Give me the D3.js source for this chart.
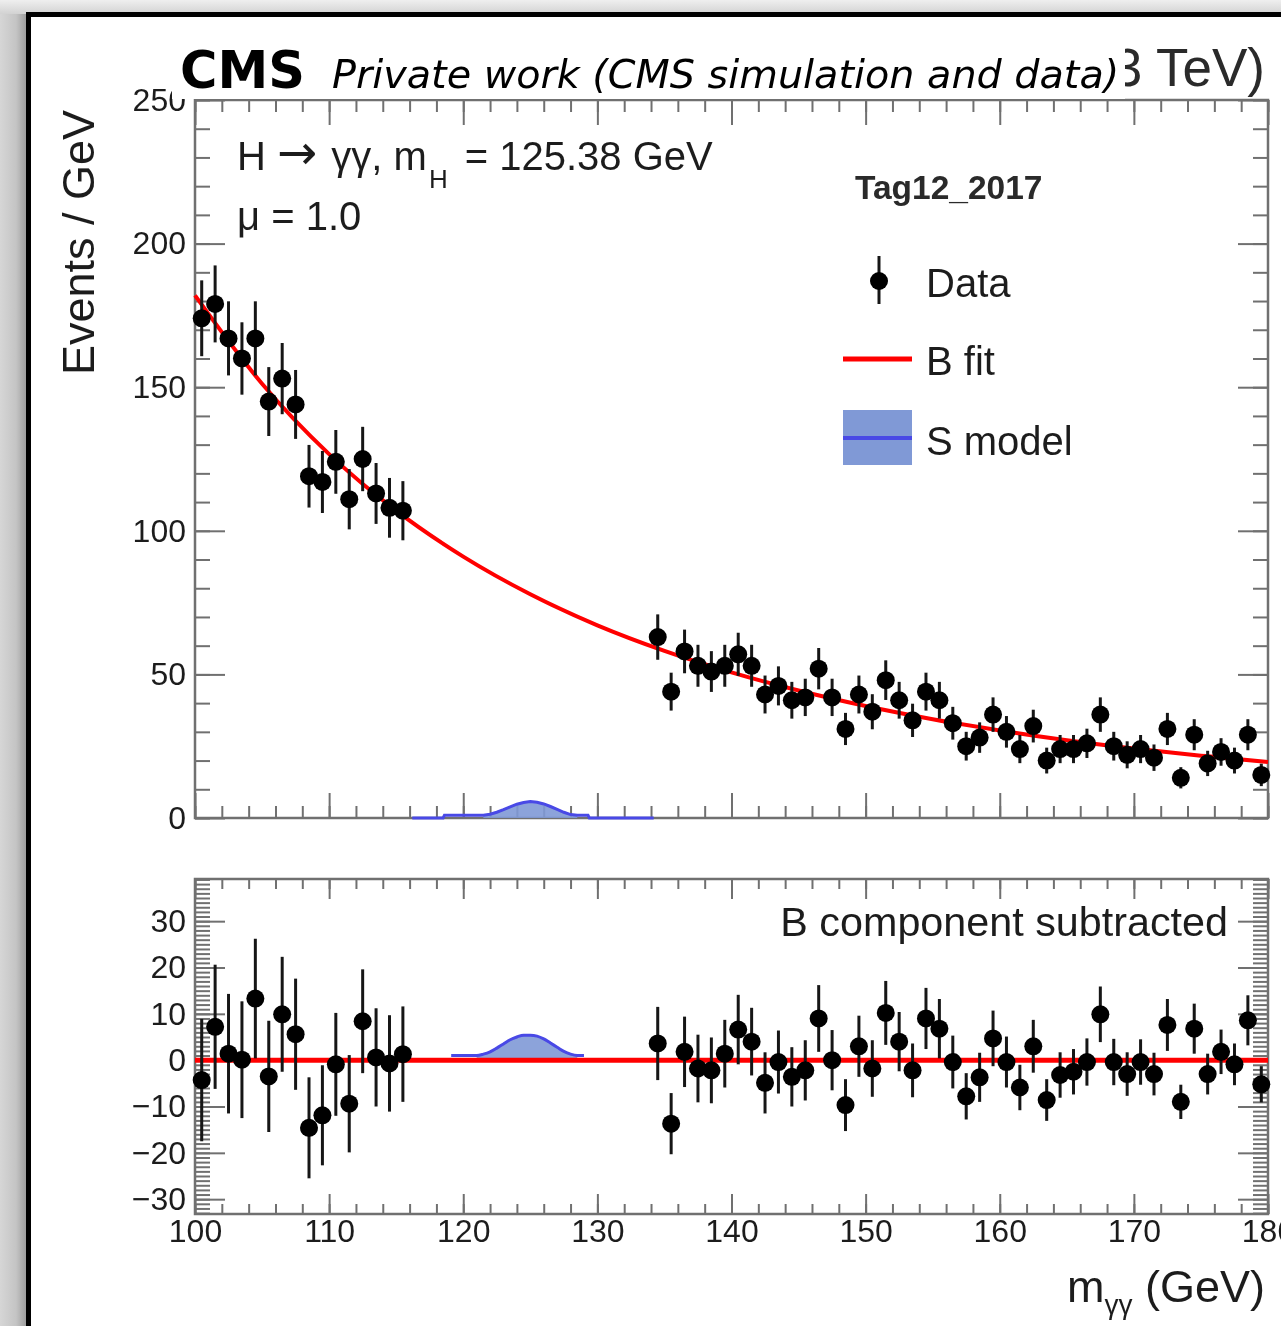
<!DOCTYPE html>
<html>
<head>
<meta charset="utf-8">
<script src="https://cdn.jsdelivr.net/npm/d3@7"></script>
<style>
  html, body { margin: 0; padding: 0; background: #e6e6e6; }
  svg { display: block; }
</style>
</head>
<body>
<svg id="chart" width="1281" height="1326"></svg>
<script>
// ---------------- DATA ----------------
const dataMass = [100.5,101.5,102.5,103.5,104.5,105.5,106.5,107.5,108.5,109.5,110.5,111.5,112.5,113.5,114.5,115.5,
  134.5,135.5,136.5,137.5,138.5,139.5,140.5,141.5,142.5,143.5,144.5,145.5,146.5,147.5,148.5,149.5,150.5,151.5,152.5,153.5,
  154.5,155.5,156.5,157.5,158.5,159.5,160.5,161.5,162.5,163.5,164.5,165.5,166.5,167.5,168.5,169.5,170.5,171.5,172.5,173.5,
  174.5,175.5,176.5,177.5,178.5,179.5];
const dataEvents = [174,179,167,160,167,145,153,144,119,117,124,111,125,113,108,107,
  63,44,58,53,51,53,57,53,43,46,41,42,52,42,31,43,37,48,41,34,
  44,41,33,25,28,36,30,24,32,20,24,24,26,36,25,22,24,21,31,14,
  29,19,23,20,29,15];
const dataErr = [13.2,13.4,12.9,12.6,12.9,12.0,12.4,12.0,10.9,10.8,11.1,10.5,11.2,10.6,10.4,10.3,
  7.9,6.6,7.6,7.3,7.1,7.3,7.5,7.3,6.6,6.8,6.4,6.5,7.2,6.5,5.6,6.6,6.1,6.9,6.4,5.8,
  6.6,6.4,5.7,5.0,5.3,6.0,5.5,4.9,5.7,4.5,4.9,4.9,5.1,6.0,5.0,4.7,4.9,4.6,5.6,3.7,
  5.4,4.4,4.8,4.5,5.4,3.9];
const residuals = [-4.3,7.2,1.4,0.1,13.3,-3.5,9.9,5.6,-14.6,-11.9,-0.9,-9.4,8.4,0.6,-0.7,1.3,
  3.6,-13.7,1.8,-1.8,-2.2,1.4,6.6,4.0,-4.9,-0.4,-3.6,-2.2,9.0,0,-9.7,3.0,-1.8,10.2,4.0,-2.2,
  9.0,6.8,-0.4,-7.8,-3.7,4.7,-0.4,-5.9,3.0,-8.6,-3.2,-2.5,-0.4,9.9,-0.4,-3.0,-0.4,-3.0,7.6,-9.0,
  6.8,-3.0,1.8,-0.9,8.6,-5.2];

const fitMass = [100,105,110,115,120,125,130,135,140,145,150,155,160,165,170,175,180];
const fitValue = [182,151.2,126.7,107.0,91.0,77.9,67.1,58.2,50.7,44.4,39.0,34.4,30.5,27.1,24.2,21.7,19.5];

const sigTopMass = [116.2,118.5,118.6,121.5,122,122.5,123,123.5,124,124.5,125,125.5,126,126.5,127,127.5,128,128.5,129.3,129.4,134.2];
const sigTopValue = [0,0,1.0,1.0,1.3,2.0,2.9,3.9,4.8,5.4,5.7,5.5,4.9,4.0,3.0,2.0,1.2,1.0,1.0,0,0];
const sigBotMass = [119.1,121,121.5,122,122.5,123,123.5,124,124.5,125,125.5,126,126.5,127,127.5,128,128.5,129];
const sigBotValue = [1.0,1.0,1.3,1.8,2.6,3.5,4.4,5.0,5.4,5.4,5.2,4.6,3.7,2.8,1.9,1.3,1.0,1.0];

const xMajorTicks = [100,110,120,130,140,150,160,170,180];
const yTopTicks = [0,50,100,150,200,250];
const yBotTicks = [-30,-20,-10,0,10,20,30];

// ---------------- LAYOUT ----------------
const svg = d3.select("#chart");
const W = 1281, H = 1326;
const X0 = 195, X1 = 1268;
const topY0 = 100, topY1 = 818;
const botY0 = 879, botY1 = 1214;
const HELV = "'Liberation Sans', Arial, Helvetica, sans-serif";
const TXT = "#1e1e1e";
const FRAME = "#707070";

const x = d3.scaleLinear().domain([100,180]).range([X0, X1]);
const yTop = d3.scaleLinear().domain([0,250]).range([topY1, topY0]);
const yBot = d3.scaleLinear().domain([-33.2, 39.1]).range([botY1, botY0]);

// defs
const defs = svg.append("defs");
const lg = defs.append("linearGradient").attr("id","leftShade").attr("x1","0").attr("x2","1").attr("y1","0").attr("y2","0");
lg.append("stop").attr("offset","0").attr("stop-color","#d6d6d6");
lg.append("stop").attr("offset","0.6").attr("stop-color","#c4c4c4");
lg.append("stop").attr("offset","1").attr("stop-color","#9a9a9a");
const tg = defs.append("linearGradient").attr("id","topShade").attr("x1","0").attr("x2","0").attr("y1","0").attr("y2","1");
tg.append("stop").attr("offset","0").attr("stop-color","#efefef");
tg.append("stop").attr("offset","1").attr("stop-color","#d2d2d2");
defs.append("filter").attr("id","soft").append("feGaussianBlur").attr("stdDeviation", 0.6);
defs.append("clipPath").attr("id","lumiClip").append("rect")
  .attr("x",1125).attr("y",0).attr("width",200).attr("height",120);

// background frame
svg.append("rect").attr("x",0).attr("y",0).attr("width",W).attr("height",H).attr("fill","#e6e6e6");
svg.append("rect").attr("x",0).attr("y",0).attr("width",W).attr("height",14).attr("fill","url(#topShade)");
svg.append("rect").attr("x",0).attr("y",14).attr("width",27).attr("height",H-14).attr("fill","url(#leftShade)");
svg.append("rect").attr("x",26).attr("y",12).attr("width",W-26).attr("height",H-12).attr("fill","#000");
svg.append("rect").attr("x",31).attr("y",17).attr("width",W-31).attr("height",H-17).attr("fill","#fff");

const g = svg.append("g").attr("filter","url(#soft)");

// ---------------- helper: axes ----------------
function styleAxis(sel) {
  sel.select(".domain").remove();
  sel.selectAll(".tick line").attr("stroke", FRAME).attr("stroke-width", 2);
  sel.selectAll(".tick text").attr("fill", TXT).attr("font-family", HELV).attr("font-size", 32);
}
const xMinorTicks = d3.range(100, 180.1, 2);

// ===== TOP PANEL =====
g.append("g").attr("transform",`translate(${X0},0)`)
  .call(d3.axisLeft(yTop).tickValues(yTopTicks).tickSize(-30).tickPadding(9)).call(styleAxis);
g.append("g").attr("transform",`translate(${X0},0)`)
  .call(d3.axisLeft(yTop).tickValues(d3.range(0,251,10)).tickSize(-15).tickFormat("")).call(styleAxis);
g.append("g").attr("transform",`translate(${X1},0)`)
  .call(d3.axisRight(yTop).tickValues(yTopTicks).tickSize(-30).tickFormat("")).call(styleAxis);
g.append("g").attr("transform",`translate(${X1},0)`)
  .call(d3.axisRight(yTop).tickValues(d3.range(0,251,10)).tickSize(-15).tickFormat("")).call(styleAxis);
g.append("g").attr("transform",`translate(0,${topY1})`)
  .call(d3.axisBottom(x).tickValues(xMajorTicks).tickSize(-25).tickFormat("")).call(styleAxis);
g.append("g").attr("transform",`translate(0,${topY1})`)
  .call(d3.axisBottom(x).tickValues(xMinorTicks).tickSize(-12).tickFormat("")).call(styleAxis);
g.append("g").attr("transform",`translate(0,${topY0})`)
  .call(d3.axisTop(x).tickValues(xMajorTicks).tickSize(-25).tickFormat("")).call(styleAxis);
g.append("g").attr("transform",`translate(0,${topY0})`)
  .call(d3.axisTop(x).tickValues(xMinorTicks).tickSize(-12).tickFormat("")).call(styleAxis);
g.append("rect").attr("x",X0).attr("y",topY0).attr("width",X1-X0).attr("height",topY1-topY0)
  .attr("fill","none").attr("stroke",FRAME).attr("stroke-width",2.5);

// signal top
const sigTop = sigTopMass.map((m,i)=>({m, v: sigTopValue[i]}));
g.append("path").datum(sigTop.filter(d=>d.m>=121.5 && d.m<=128.5))
  .attr("d", d3.area().x(d=>x(d.m)).y0(yTop(0)).y1(d=>yTop(d.v)).curve(d3.curveMonotoneX))
  .attr("fill","#8099d6").attr("opacity",0.9);
g.append("path").datum(sigTop)
  .attr("d", d3.line().x(d=>x(d.m)).y(d=>yTop(d.v)))
  .attr("fill","none").attr("stroke","#4848e6").attr("stroke-width",3);

// fit curve
const fitPts = fitMass.map((m,i)=>({m, v: fitValue[i]}));
g.append("path").datum(fitPts)
  .attr("d", d3.line().x(d=>x(d.m)).y(d=>yTop(d.v)).curve(d3.curveMonotoneX))
  .attr("fill","none").attr("stroke","#ff0000").attr("stroke-width",4);

// data top
const pts = dataMass.map((m,i)=>({m, v: dataEvents[i], e: dataErr[i], r: residuals[i]}));
const dTop = g.append("g");
dTop.selectAll("line").data(pts).join("line")
  .attr("x1",d=>x(d.m)).attr("x2",d=>x(d.m))
  .attr("y1",d=>yTop(d.v-d.e)).attr("y2",d=>yTop(d.v+d.e))
  .attr("stroke","#151515").attr("stroke-width",3);
dTop.selectAll("circle").data(pts).join("circle")
  .attr("cx",d=>x(d.m)).attr("cy",d=>yTop(d.v)).attr("r",9).attr("fill","#000");

// y title
g.append("text").attr("transform","translate(94,110) rotate(-90)")
  .attr("text-anchor","end").attr("font-family",HELV).attr("font-size",45).attr("fill",TXT)
  .text("Events / GeV");

// annotations
const ann = g.append("text").attr("x",237).attr("y",170).attr("font-family",HELV).attr("font-size",40).attr("fill",TXT);
ann.append("tspan").text("H ");
ann.append("tspan").attr("font-family","'DejaVu Sans', sans-serif").attr("font-size",48).attr("dy",-1).text("\u2192");
ann.append("tspan").attr("dy",1).attr("dx",3).text(" \u03B3\u03B3, m");
ann.append("tspan").attr("font-size",26).attr("dy",18).attr("dx",2).text("H");
ann.append("tspan").attr("dy",-18).attr("dx",6).text(" = 125.38 GeV");
g.append("text").attr("x",237).attr("y",230).attr("font-family",HELV).attr("font-size",40).attr("fill",TXT)
  .text("\u03BC = 1.0");
g.append("text").attr("x",855).attr("y",199).attr("font-family",HELV).attr("font-size",33.5).attr("font-weight","bold").attr("fill","#2a2a2a")
  .text("Tag12_2017");

// legend
const leg = g.append("g");
leg.append("line").attr("x1",879).attr("x2",879).attr("y1",256).attr("y2",304).attr("stroke","#151515").attr("stroke-width",3);
leg.append("circle").attr("cx",879).attr("cy",281).attr("r",9).attr("fill","#000");
leg.append("text").attr("x",926).attr("y",297).attr("font-family",HELV).attr("font-size",40).attr("fill",TXT).text("Data");
leg.append("line").attr("x1",843).attr("x2",912).attr("y1",359).attr("y2",359).attr("stroke","#ff0000").attr("stroke-width",5);
leg.append("text").attr("x",926).attr("y",375).attr("font-family",HELV).attr("font-size",40).attr("fill",TXT).text("B fit");
leg.append("rect").attr("x",843).attr("y",410).attr("width",69).attr("height",55).attr("fill","#8099d6");
leg.append("line").attr("x1",843).attr("x2",912).attr("y1",438).attr("y2",438).attr("stroke","#4848e6").attr("stroke-width",4);
leg.append("text").attr("x",926).attr("y",455).attr("font-family",HELV).attr("font-size",40).attr("fill",TXT).text("S model");

// ===== BOTTOM PANEL =====
g.append("g").attr("transform",`translate(${X0},0)`)
  .call(d3.axisLeft(yBot).tickValues(yBotTicks).tickSize(-30).tickPadding(9)).call(styleAxis);
g.append("g").attr("transform",`translate(${X0},0)`)
  .call(d3.axisLeft(yBot).tickValues(d3.range(-33,40,1)).tickSize(-15).tickFormat("")).call(styleAxis);
g.append("g").attr("transform",`translate(${X1},0)`)
  .call(d3.axisRight(yBot).tickValues(yBotTicks).tickSize(-30).tickFormat("")).call(styleAxis);
g.append("g").attr("transform",`translate(${X1},0)`)
  .call(d3.axisRight(yBot).tickValues(d3.range(-33,40,1)).tickSize(-15).tickFormat("")).call(styleAxis);
g.append("g").attr("transform",`translate(0,${botY1})`)
  .call(d3.axisBottom(x).tickValues(xMajorTicks).tickSize(-20).tickPadding(5)).call(styleAxis);
g.append("g").attr("transform",`translate(0,${botY1})`)
  .call(d3.axisBottom(x).tickValues(xMinorTicks).tickSize(-10).tickFormat("")).call(styleAxis);
g.append("g").attr("transform",`translate(0,${botY0})`)
  .call(d3.axisTop(x).tickValues(xMajorTicks).tickSize(-20).tickFormat("")).call(styleAxis);
g.append("g").attr("transform",`translate(0,${botY0})`)
  .call(d3.axisTop(x).tickValues(xMinorTicks).tickSize(-10).tickFormat("")).call(styleAxis);
g.append("rect").attr("x",X0).attr("y",botY0).attr("width",X1-X0).attr("height",botY1-botY0)
  .attr("fill","none").attr("stroke",FRAME).attr("stroke-width",2.5);

// signal bottom
const sigBot = sigBotMass.map((m,i)=>({m, v: sigBotValue[i]}));
g.append("path").datum(sigBot.filter(d=>d.m>=121 && d.m<=128.5))
  .attr("d", d3.area().x(d=>x(d.m)).y0(yBot(0)).y1(d=>yBot(d.v)).curve(d3.curveMonotoneX))
  .attr("fill","#8099d6").attr("opacity",0.9);
g.append("path").datum(sigBot)
  .attr("d", d3.line().x(d=>x(d.m)).y(d=>yBot(d.v)).curve(d3.curveMonotoneX))
  .attr("fill","none").attr("stroke","#4848e6").attr("stroke-width",3);

// zero line (B component)
g.append("line").attr("x1",x(100)).attr("x2",x(180)).attr("y1",yBot(0)).attr("y2",yBot(0))
  .attr("stroke","#ff0000").attr("stroke-width",5);

// residual points
const dBot = g.append("g");
dBot.selectAll("line").data(pts).join("line")
  .attr("x1",d=>x(d.m)).attr("x2",d=>x(d.m))
  .attr("y1",d=>yBot(d.r-d.e)).attr("y2",d=>yBot(d.r+d.e))
  .attr("stroke","#151515").attr("stroke-width",3);
dBot.selectAll("circle").data(pts).join("circle")
  .attr("cx",d=>x(d.m)).attr("cy",d=>yBot(d.r)).attr("r",9).attr("fill","#000");

g.append("text").attr("x",1228).attr("y",936).attr("text-anchor","end")
  .attr("font-family",HELV).attr("font-size",41.3).attr("fill",TXT).text("B component subtracted");

// x title
const xt = g.append("text").attr("x",1265).attr("y",1302).attr("text-anchor","end")
  .attr("font-family",HELV).attr("font-size",45).attr("fill",TXT);
xt.append("tspan").text("m");
xt.append("tspan").attr("font-size",28).attr("dy",12).text("\u03B3\u03B3");
xt.append("tspan").attr("dy",-12).text(" (GeV)");

// ===== HEADER =====
const lumi = svg.append("text").attr("x",1265).attr("y",86).attr("text-anchor","end")
  .attr("clip-path","url(#lumiClip)")
  .attr("font-family",HELV).attr("font-size",53).attr("fill","#2a2a2a").attr("filter","url(#soft)");
lumi.append("tspan").text("41.5 fb");
lumi.append("tspan").attr("font-size",36).attr("dy",-22).text("\u22121");
lumi.append("tspan").attr("dy",22).text(" (13 TeV)");

svg.append("rect").attr("x",172).attr("y",37).attr("width",953).attr("height",62).attr("fill","#fff");
svg.append("text").attr("x",180).attr("y",88).attr("font-family","'DejaVu Sans', sans-serif")
  .attr("font-weight","bold").attr("font-size",51).attr("fill","#000").text("CMS");
svg.append("text").attr("x",332).attr("y",88).attr("font-family","'DejaVu Sans', sans-serif")
  .attr("font-style","italic").attr("font-size",39.7).attr("fill","#000").text("Private work (CMS simulation and data)");
</script>
</body>
</html>
